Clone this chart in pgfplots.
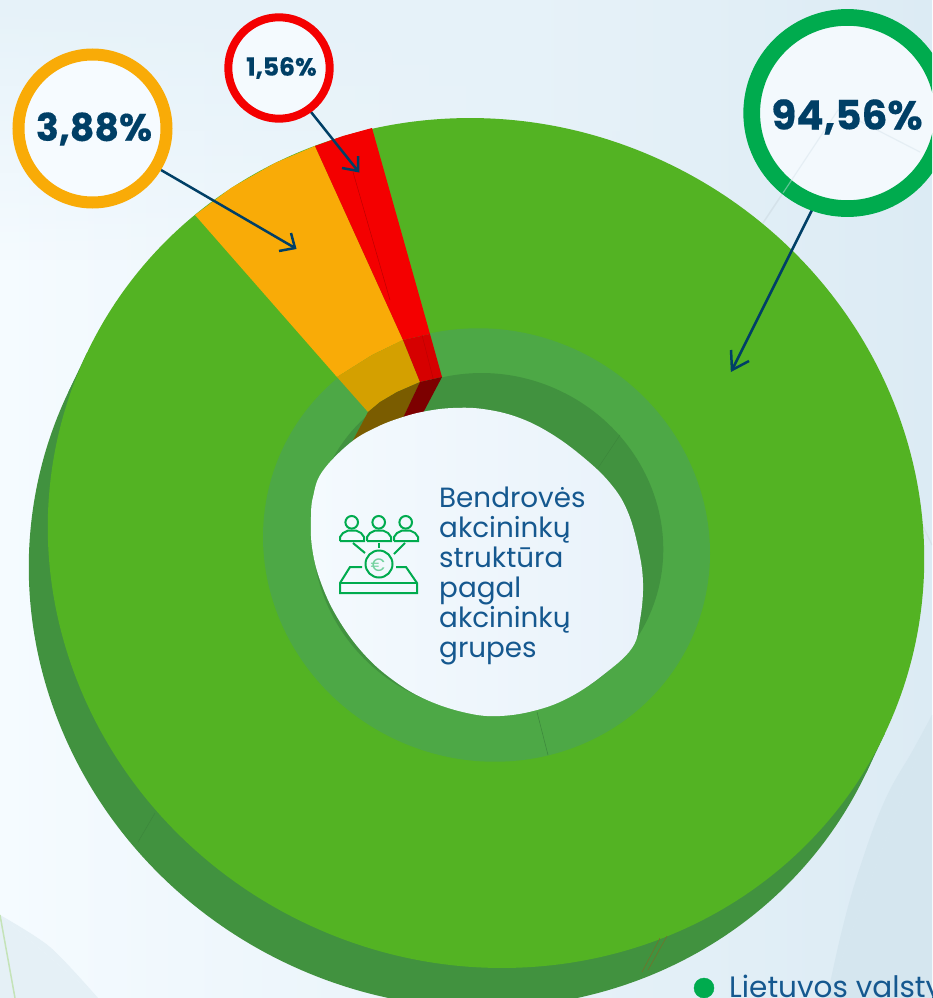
\documentclass[border=0pt]{standalone}
\usepackage{fontspec}
\setmainfont{Poppins}
\newfontfamily\pb[BoldFeatures={FakeBold=0.35}]{Poppins}
\usepackage{pgfplots}
\usepackage{pgfplotstable}
\usetikzlibrary{fadings}
\pgfplotsset{compat=1.18}
\definecolor{grn}{HTML}{53B323}
\definecolor{side}{HTML}{41923F}
\definecolor{floorg}{HTML}{4DA846}
\definecolor{org}{HTML}{F9AB07}
\definecolor{orgd}{HTML}{D4A000}
\definecolor{orgf}{HTML}{7A5C00}
\definecolor{rd}{HTML}{F40000}
\definecolor{rdd}{HTML}{D60000}
\definecolor{rdf}{HTML}{7D0000}
\definecolor{navy}{HTML}{003F66}
\definecolor{lab}{HTML}{15588F}
\definecolor{icg}{HTML}{00AB4E}
\definecolor{bgl}{HTML}{F5FBFF}
\definecolor{bgr}{HTML}{DCEBF4}
\definecolor{bgt}{HTML}{E6F2F9}
\definecolor{bgbr}{HTML}{D5E6EF}
\definecolor{bgbl}{HTML}{E5F0F6}
\definecolor{faintg}{HTML}{C4E3B8}
\definecolor{faint}{HTML}{D5E2EA}
\definecolor{seam}{HTML}{786E28}
\definecolor{seamg}{HTML}{3C873C}
\definecolor{seamr}{HTML}{BE0000}
\definecolor{blobl}{HTML}{F4FAFE}
\definecolor{blobr}{HTML}{E9F2FA}
\definecolor{fillo}{HTML}{F6FBFF}
\definecolor{fillr}{HTML}{F4FAFE}
\definecolor{fillg}{HTML}{F3F9FD}
\pgfplotsset{page/.style={at={(0,0)},anchor=south west,scale only axis,width=932pt,height=998pt,
  xmin=0,xmax=932,ymin=0,ymax=998,y dir=reverse,hide axis,clip=false}}
\pgfplotstableread{
u v
398.8 190.6
338.2 282.5
254.6 355.0
153.6 403.3
42.1 424.2
-72.1 416.3
-181.6 379.8
-278.7 317.5
-356.7 233.6
-410.4 133.7
-436.2 24.8
-432.2 -85.7
-398.8 -190.6
-338.2 -282.5
-254.6 -355.0
-153.6 -403.3
-42.1 -424.2
72.1 -416.3
181.6 -379.8
278.7 -317.5
356.7 -233.6
410.4 -133.7
436.2 -24.8
432.2 85.7
}\Ell
\begin{document}
\begin{tikzpicture}
\path[use as bounding box,clip] (0,0) rectangle (932pt,998pt);
\begin{axis}[page]
% background
\addplot[draw=none,shade,left color=bgl,right color=bgr]
  coordinates {(0,0)(932,0)(932,998)(0,998)};
\addplot[draw=none,fill=bgt,path fading=south]
  coordinates {(0,0)(620,0)(620,260)(0,260)};
\addplot[fill=bgbr,draw=none,smooth,tension=.7]
  coordinates {(827,998)(842,930)(860,867)(885,800)(913,750)(932,715)};
\addplot[fill=bgbr,draw=none]
  coordinates {(827,998)(932,715)(932,998)};
\addplot[fill=bgbl,draw=none,smooth]
  coordinates {(0,915)(50,947)(98,998)};
\addplot[fill=bgbl,draw=none]
  coordinates {(0,915)(98,998)(0,998)};
\addplot[draw=faintg,line width=1.5pt]
  coordinates {(0,915)(15,998)};
\addplot[draw=faint,line width=1.5pt]
  coordinates {(763,223)(838,110)(932,158)};
\addplot[draw=faint,line width=1.2pt]
  coordinates {(920,520)(932,545)};
% side wall
\addplot[fill=side,draw=none]
  coordinates {(884.8,733.6)(865.8,773.6)(68.2,392.4)(87.2,352.4)};
\addplot[fill=side,draw=none,smooth cycle,tension=.61] table[x expr=467+\thisrow{u},y expr=583+\thisrow{v}] {\Ell};
% top surface
\addplot[fill=grn,draw=none,smooth cycle,tension=.61] table[x expr=486+\thisrow{u},y expr=543+\thisrow{v}] {\Ell};
\addplot[draw=seam,line width=.5pt] coordinates {(667,936)(648,970)};
\addplot[draw=seam,line width=.5pt] coordinates {(660,938)(642,972)};
\addplot[draw=seamg,line width=.5pt] coordinates {(155,813)(138,842)};
% inner ring floor and hole
\addplot[fill=floorg,draw=none,smooth cycle,tension=.61] table[x expr=486.5+.51*\thisrow{u},y expr=545+.51*\thisrow{v}] {\Ell};
\addplot[fill=side,draw=none,smooth cycle,tension=.61] table[x expr=488+.40*\thisrow{u},y expr=543+.40*\thisrow{v}] {\Ell};
\addplot[draw=seamg,line width=.5pt] coordinates {(537,712)(548,755)};
\addplot[draw=seamg,line width=.5pt] coordinates {(598,468)(620,435)};
% orange slice
\addplot[fill=org,draw=none]
  coordinates {(195,215)(231,188)(275,163)(315,146)(403,340)(372,355)(337,377)};
\addplot[fill=orgd,draw=none]
  coordinates {(337,377)(372,355)(403,340)(420,382)(397,392)(380,402)(368,412)};
\addplot[fill=orgf,draw=none]
  coordinates {(368,412)(380,402)(397,392)(420,382)(402,420)(377,430)(350,446)};
% red slice
\addplot[fill=rd,draw=none]
  coordinates {(315,146)(343,136)(372,128)(430,334)(403,340)};
\addplot[fill=rdd,draw=none]
  coordinates {(403,340)(430,334)(442,377)(420,382)};
\addplot[fill=rdf,draw=none]
  coordinates {(420,382)(442,377)(423,413)(402,420)};
\addplot[draw=seamr,line width=.5pt] coordinates {(353,172)(390,300)};
\addplot[draw=seamr,line width=.5pt] coordinates {(422,335)(433,378)};
% centre blob
\addplot[draw=none,shade,left color=blobl,right color=blobr,smooth cycle,tension=.65]
  coordinates {(453,408)(483,409)(517,417)(550,433)(583,457)(610,483)(627,510)(638,547)(643,583)(640,620)(632,648)
  (603,675)(570,697)(537,710)(500,716)(467,713)(427,700)(393,680)(363,653)(337,617)(320,580)(312,547)(311,517)(313,497)(322,472)
  (350,443)(377,427)(403,417)(427,411)};
% callouts
\addplot[navy,line width=2.5pt] coordinates {(161,170)(295,248)};
\addplot[navy,line width=2.5pt] coordinates {(291,233)(295,248)(279,251)};
\addplot[navy,line width=2.5pt] coordinates {(311,112)(358,171)};
\addplot[navy,line width=2.5pt] coordinates {(358,156)(358,171)(342,168)};
\addplot[navy,line width=2.5pt] coordinates {(812,210)(732,370)};
\addplot[navy,line width=2.5pt] coordinates {(731,350)(732,370)(749,361)};
\addplot[only marks,mark=*,mark size=74pt,mark options={draw=org,line width=12pt,fill=fillo}] coordinates {(92.5,128.5)};
\addplot[only marks,mark=*,mark size=50.7pt,mark options={draw=rd,line width=8pt,fill=fillr}] coordinates {(279,68)};
\addplot[only marks,mark=*,mark size=95.6pt,mark options={draw=icg,line width=16.7pt,fill=fillg}] coordinates {(847.3,113)};
\end{axis}
\begin{axis}[page]
\addplot[faint,line width=1.2pt,opacity=.45] coordinates {(783,193)(838,110)(920,152)};
\node[anchor=center,font=\pb\bfseries\fontsize{38}{38}\selectfont,text=navy] at (axis cs:94,129) {3,88\%};
\node[anchor=center,font=\pb\bfseries\fontsize{25}{25}\selectfont,text=navy] at (axis cs:281.5,68) {1,56\%};
\node[anchor=center,font=\pb\bfseries\fontsize{40.5}{40.5}\selectfont,text=navy] at (axis cs:847,117) {94,56\%};
% centre text
\node[anchor=base west,inner sep=0pt,font=\fontsize{27.8}{27.8}\selectfont,text=lab] at (axis cs:439,507) {Bendrovės};
\node[anchor=base west,inner sep=0pt,font=\fontsize{27.8}{27.8}\selectfont,text=lab] at (axis cs:439,537) {akcininkų};
\node[anchor=base west,inner sep=0pt,font=\fontsize{27.8}{27.8}\selectfont,text=lab] at (axis cs:439,567) {struktūra};
\node[anchor=base west,inner sep=0pt,font=\fontsize{27.8}{27.8}\selectfont,text=lab] at (axis cs:439,597) {pagal};
\node[anchor=base west,inner sep=0pt,font=\fontsize{27.8}{27.8}\selectfont,text=lab] at (axis cs:439,627) {akcininkų};
\node[anchor=base west,inner sep=0pt,font=\fontsize{27.8}{27.8}\selectfont,text=lab] at (axis cs:439,657) {grupes};
% icon
\addplot[only marks,mark=o,mark size=6.3pt,mark options={draw=icg,line width=2pt}] coordinates {(351.7,522.3)(378.7,522.3)(405.7,522.3)};
\addplot[icg,line width=2pt] coordinates {(340,541)(340,537)(343,533)(348,530.5)(356,530.5)(361,533)(364,537)(364,541)(340,541)};
\addplot[icg,line width=2pt] coordinates {(367,541)(367,537)(370,533)(375,530.5)(383,530.5)(388,533)(391,537)(391,541)(367,541)};
\addplot[icg,line width=2pt] coordinates {(394,541)(394,537)(397,533)(402,530.5)(410,530.5)(415,533)(418,537)(418,541)(394,541)};
\addplot[icg,line width=2pt] coordinates {(353,543)(365,553)};
\addplot[icg,line width=2pt] coordinates {(379,543)(379,548)};
\addplot[icg,line width=2pt] coordinates {(405,543)(394,554)};
\addplot[only marks,mark=o,mark size=13.5pt,mark options={draw=icg,line width=2pt}] coordinates {(379,564)};
\node[anchor=center,inner sep=0pt,font=\fontsize{18}{18}\selectfont,text=icg!55!white] at (axis cs:378,565) {€};
\addplot[icg,line width=2pt] coordinates {(362,567)(350,567)(340,583)(340,593)(417,593)(417,583)(406,567)(396,567)};
\addplot[icg,line width=2pt] coordinates {(340,583)(417,583)};
% legend stub
\addplot[only marks,mark=*,mark size=10pt,mark options={draw=icg,fill=icg}] coordinates {(704,988)};
\node[anchor=base west,inner sep=0pt,font=\fontsize{29.5}{29.5}\selectfont,text=lab] at (axis cs:729,997) {Lietuvos valstybė};
\end{axis}
\end{tikzpicture}
\end{document}
